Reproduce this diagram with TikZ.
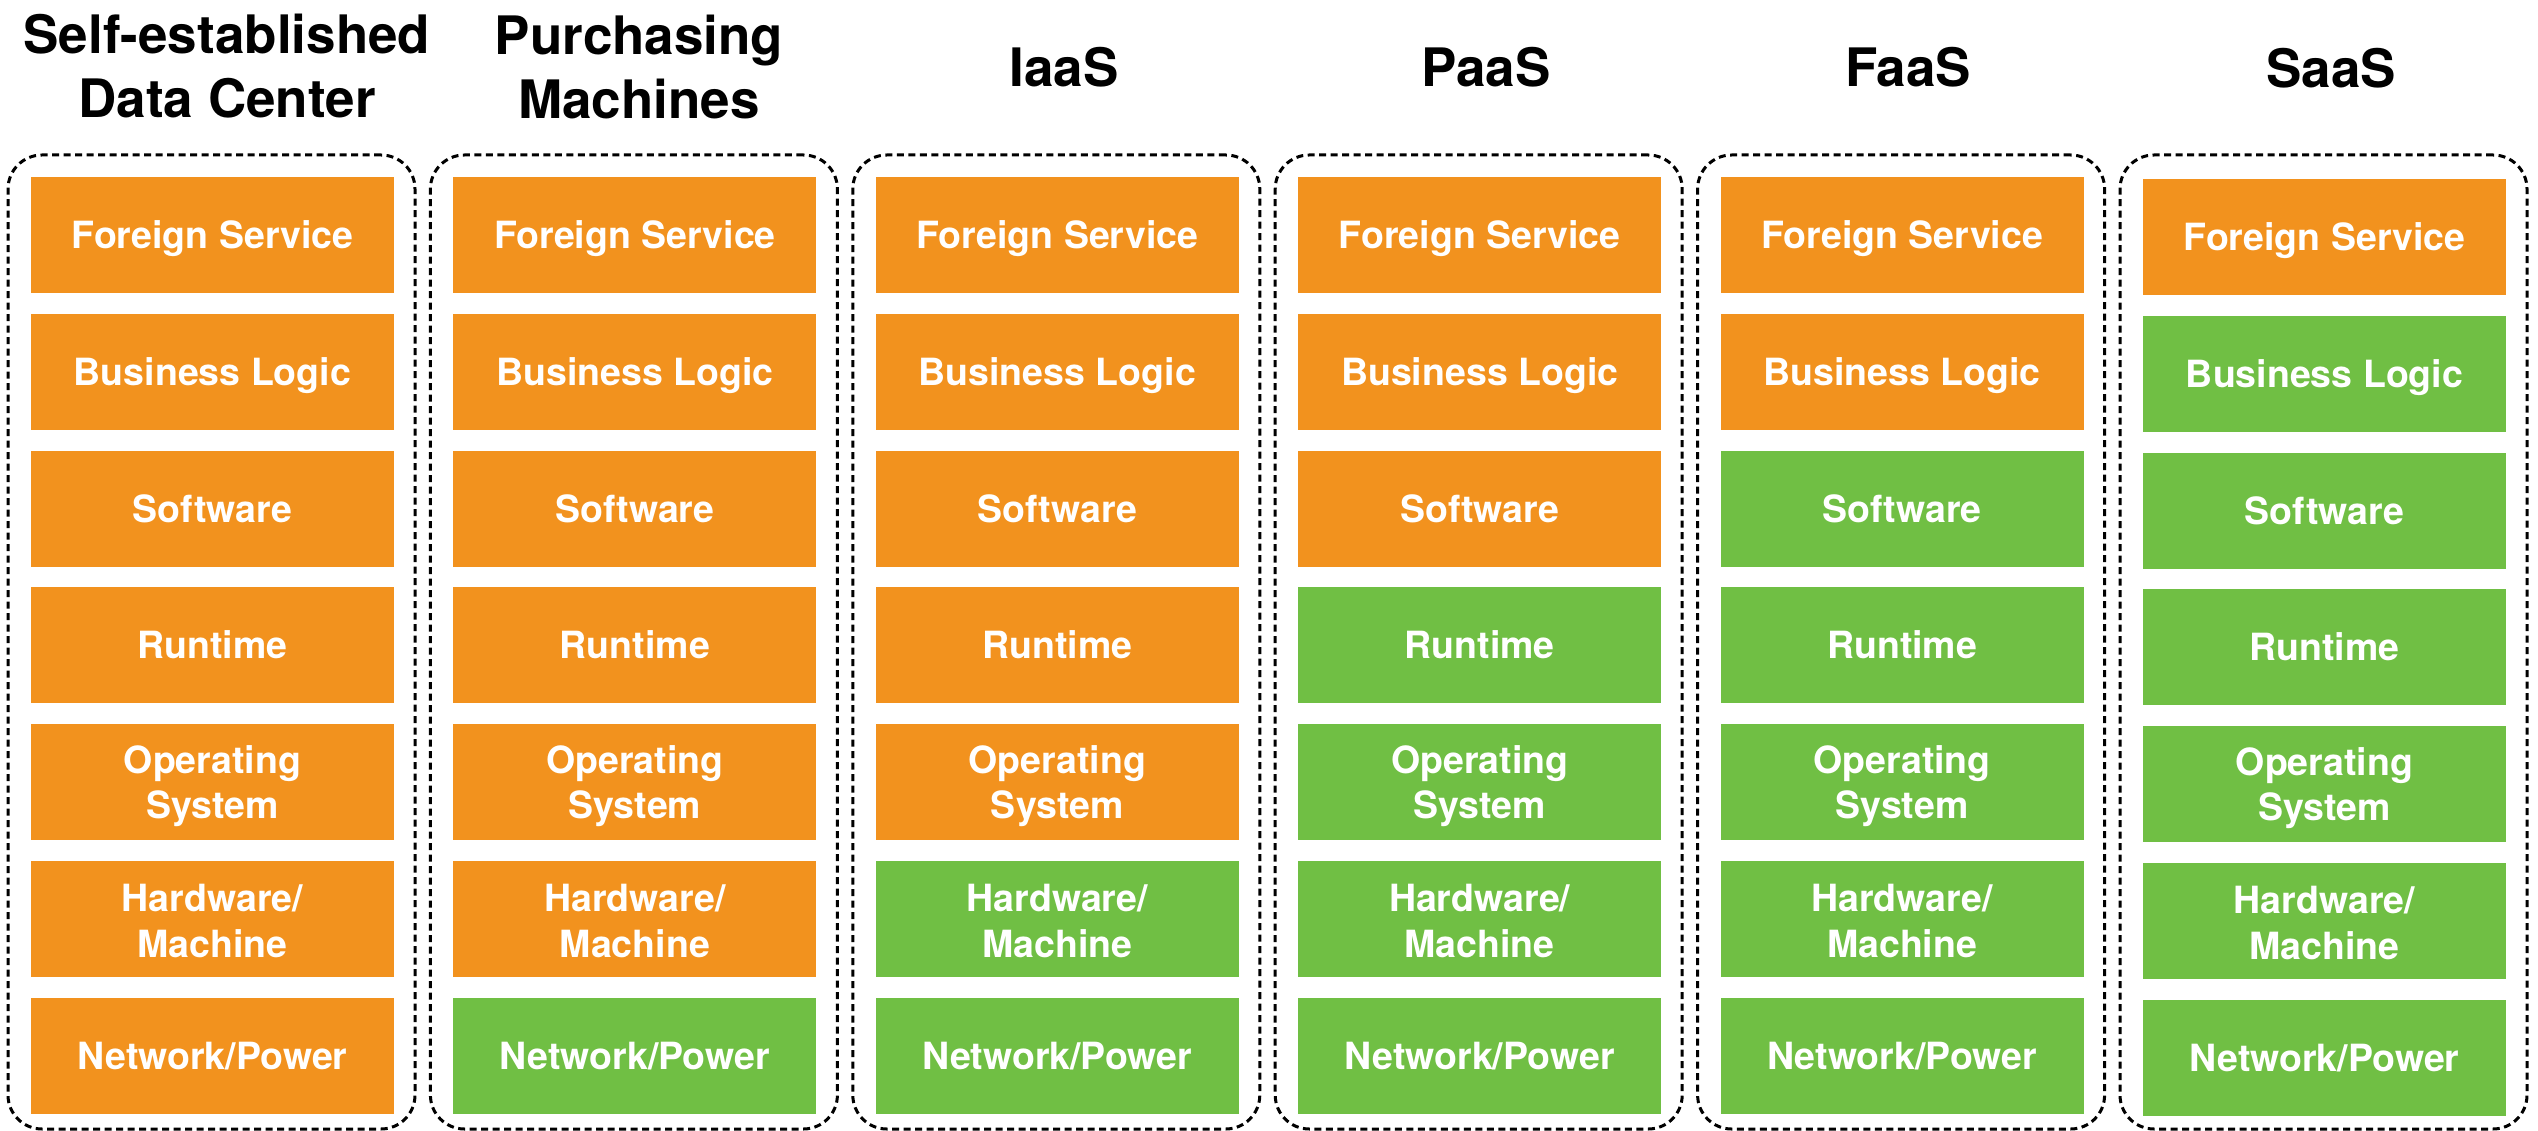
\documentclass[tikz,border=0pt]{standalone}
\usepackage{fontspec}
\setmainfont{TeX Gyre Heros}
\definecolor{layerorange}{RGB}{242,146,30}
\definecolor{layergreen}{RGB}{112,191,68}

% names of the seven layers, top to bottom (two-line names get a top strut
% so that they sit a little below the middle of their box)
\newcommand\layername[1]{\ifcase#1\or Foreign Service\or Business Logic\or Software\or Runtime\or \rule{0pt}{36pt}Operating\\System\or \rule{0pt}{31pt}Hardware/\\Machine\or Network/Power\fi}

\tikzset{
  layerbox/.style={rectangle, inner sep=0pt, minimum width=363pt, minimum height=116pt,
    text=white, font=\fontsize{37.5}{45.5}\selectfont\bfseries, align=center},
  oneline/.style={text height=27pt, text depth=0pt},
  stackframe/.style={draw=black, line width=3pt, dash pattern=on 7pt off 4.5pt,
    rounded corners=34pt, inner sep=0pt, minimum width=407pt, minimum height=974pt},
  colhead/.style={font=\fontsize{53}{64}\selectfont\bfseries, align=center, inner sep=0pt}
}

\begin{document}
\begin{tikzpicture}[x=1pt,y=-1pt]
\useasboundingbox (0,0) rectangle (2538,1131);

% column headings
\node[colhead] (head-1) at (227,66.5) {Self-established\\Data Center};
\node[colhead] (head-2) at (639,66.5) {Purchasing\\Machines};
\node[colhead] (head-3) at (1064,67) {IaaS};
\node[colhead] (head-4) at (1486,67) {PaaS};
\node[colhead] (head-5) at (1908,67) {FaaS};
\node[colhead] (head-6) at (2331,68) {SaaS};

% dashed frames around each stack
\foreach \c in {1,...,6}{
  \node[stackframe] (frame-\c) at ({211.5+(\c-1)*422.4},642) {};
}

% layer boxes: the top \n layers are self-managed (orange), the rest are provided (green)
\foreach \c/\n in {1/7,2/6,3/5,4/3,5/2,6/1}{
  \foreach \r in {1,...,7}{
    \pgfmathsetmacro\xc{212.5+(\c-1)*422.4}
    \pgfmathsetmacro\yc{235+(\r-1)*136.8+(\c==6)*2}
    \ifnum\r>\n \def\fc{layergreen}\else\def\fc{layerorange}\fi
    \ifnum\r=5 \tikzset{curlines/.style={}}\else
      \ifnum\r=6 \tikzset{curlines/.style={}}\else
        \tikzset{curlines/.style={oneline}}\fi\fi
    \node[layerbox, curlines, fill=\fc] (box-\c-\r) at (\xc,\yc) {\layername{\r}};
  }
}
\end{tikzpicture}
\end{document}
